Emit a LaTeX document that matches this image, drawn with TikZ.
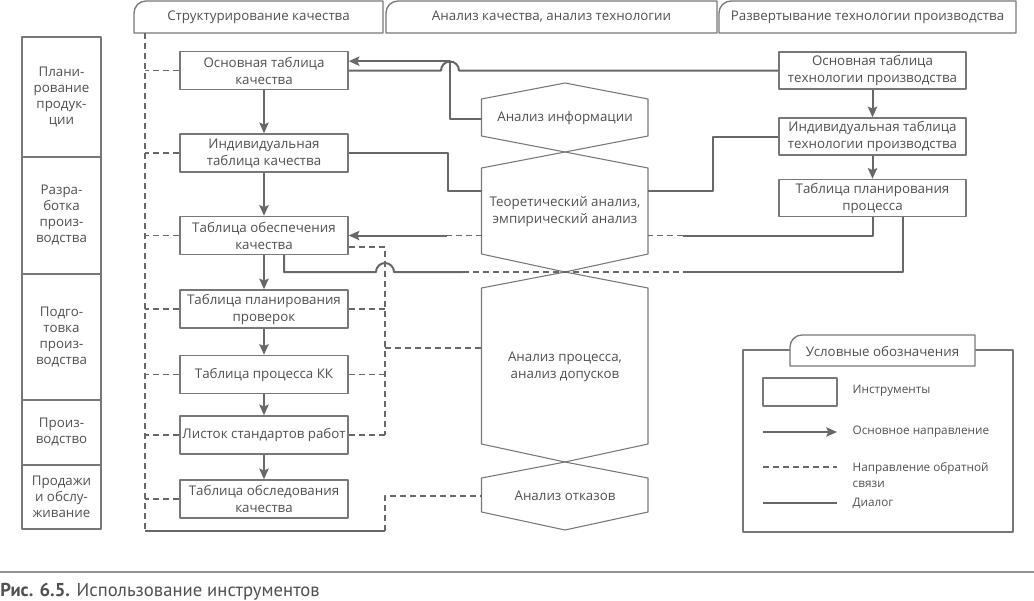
\documentclass[tikz,border=0pt]{standalone}
\usepackage{fontspec}
\setmainfont{Open Sans}
\newfontfamily\capfont{PT Sans}
\usetikzlibrary{arrows.meta}
\definecolor{linegray}{RGB}{104,104,104}
\definecolor{framegray}{RGB}{120,120,120}
\definecolor{textgray}{RGB}{80,80,80}
\begin{document}
\begin{tikzpicture}[x=0.75pt,y=-0.75pt,>={Stealth[length=8pt,width=7pt,inset=1.5pt]},line join=round,
	font=\fontsize{10}{12.75}\selectfont,text=textgray,
	tool/.style={draw=framegray,line width=1.1pt,fill=white,minimum width=126pt,minimum height=28.5pt,inner sep=0pt,align=center},
	tech/.style={tool,minimum width=140.25pt,minimum height=27.75pt},
	stage/.style={align=center,font=\fontsize{10}{11.8}\selectfont},
	frame/.style={draw=framegray,line width=1pt},
	hexa/.style={draw=framegray,line width=0.8pt},
	main/.style={->,draw=linegray,line width=1.5pt},
	dialog/.style={draw=linegray,line width=1.5pt},
	feedback/.style={draw=linegray,line width=1.4pt,dash pattern=on 4.5pt off 3pt},
	legtext/.style={anchor=west,align=left,font=\fontsize{8.8}{12}\selectfont}]
	\useasboundingbox (0,0) rectangle (1034,600);
	% column headers
	\draw[frame] (134,33) [rounded corners=9pt]--(134,1) [sharp corners]--(383,1)--(383,33)--cycle;
	\draw[frame] (386,33) [rounded corners=9pt]--(386,1) [sharp corners]--(717,1)--(717,33)--cycle;
	\draw[frame] (719,33) [rounded corners=9pt]--(719,1) [sharp corners]--(1016,1)--(1016,33)--cycle;
	\node (tabsq) at (258.5,17) {Структурирование качества};
	\node (taban) at (551.5,17) {Анализ качества, анализ технологии};
	\node (tabtd) at (867.5,17) {Развертывание технологии производства};
	% stages
	\draw[frame] (22,37) rectangle (101,529);
	\foreach \y in {157,274,400,465} \draw[frame] (22,\y)--(101,\y);
	\node[stage] (plan) at (61.5,97) {Плани-\\рование\\продук-\\ции};
	\node[stage] (razr) at (61.5,215) {Разра-\\ботка\\произ-\\водства};
	\node[stage] (podg) at (61.5,337) {Подго-\\товка\\произ-\\водства};
	\node[stage] (proiz) at (61.5,432) {Произ-\\водство};
	\node[stage] (prod) at (61.5,497) {Продажи\\и обслу-\\живание};
	% quality tables
	\node[tool] (oq) at (264,70.5) {Основная таблица\\качества};
	\node[tool] (iq) at (264,153) {Индивидуальная\\таблица качества};
	\node[tool] (sq) at (264,235.5) {Таблица обеспечения\\качества};
	\node[tool] (ip) at (264,309) {Таблица планирования\\проверок};
	\node[tool] (kk) at (264,374.5) {Таблица процесса КК};
	\node[tool] (ls) at (264,435) {Листок стандартов работ};
	\node[tool] (ok) at (264,499) {Таблица обследования\\качества};
	% technology tables
	\node[tech] (ot) at (872.5,70.5) {Основная таблица\\технологии производства};
	\node[tech] (it) at (872.5,136.5) {Индивидуальная таблица\\технологии производства};
	\node[tech] (pp) at (872.5,198) {Таблица планирования\\процесса};
	% analysis hexagons
	\draw[hexa] (565,83)--(648,99)--(648,136)--(565,152)--(481.5,136)--(481.5,99)--cycle;
	\draw[hexa] (565,152)--(648,168)--(648,254)--(565,272)--(481.5,254)--(481.5,168)--cycle;
	\draw[hexa] (565,272)--(648,288)--(648,444)--(565,462)--(481.5,444)--(481.5,288)--cycle;
	\draw[hexa] (565,462)--(648,478)--(648,512)--(565,530)--(481.5,512)--(481.5,478)--cycle;
	\node (h1) at (565,118) {Анализ информации};
	\node[align=center] (h2) at (565,212) {Теоретический анализ,\\эмпирический анализ};
	\node[align=center] (h3) at (565,367) {Анализ процесса,\\анализ допусков};
	\node (h4) at (565,496) {Анализ отказов};
	\coordinate (h1w) at (481.5,119);
	\coordinate (h2w) at (481.5,191);
	\coordinate (h2e) at (648,191);
	\coordinate (h2wa) at (481.5,235.5);
	\coordinate (h2ea) at (648,235.5);
	\coordinate (h3w) at (481.5,348);
	\coordinate (h4w) at (481.5,496);
	% main direction
	\draw[main] (oq)--(iq);
	\draw[main] (iq)--(sq);
	\draw[main] (sq)--(ip);
	\draw[main] (ip)--(kk);
	\draw[main] (kk)--(ls);
	\draw[main] (ls)--(ok);
	\draw[main] (ot)--(it);
	\draw[main] (it)--(pp);
	\draw[main] (h1w)--(450,119)|-([yshift=7pt]oq.east);
	% dialog
	\draw[dialog] (oq.east)--(441,70.5) arc[start angle=180,end angle=0,radius=6.75pt]--(ot.west);
	\draw[dialog] (iq.east)-|(448,191)--(h2w);
	\draw[dialog] (h2e)--(713,191)|-(it.west);
	\draw[dialog] (pp.south)|-(683,235.5);
	\draw[feedback] (683,235.5)--(h2ea);
	\draw[feedback] (h2wa)--(447,235.5);
	\draw[main] (447,235.5)--(sq.east);
	\draw[dialog] ([xshift=15pt]sq.south)|-(376,272) arc[start angle=180,end angle=0,radius=6.75pt]--(463,272);
	\draw[feedback] (463,272)--(683,272);
	\draw[dialog] (683,272)-|([xshift=22.9pt]pp.south);
	% feedback
	\draw[feedback] (145,33)--(145,531);
	\foreach \n in {oq,iq,sq,ip,kk,ls,ok} \draw[feedback] (\n.west)--(145,0|-\n.west);
	\draw[dialog] (145,531)--(385,531);
	\draw[feedback] (385,531)|-(h4w);
	\draw[feedback] ([yshift=-8.6pt]sq.east)-|(385,435);
	\foreach \n in {ip,kk,ls} \draw[feedback] (\n.east)--(385,0|-\n.east);
	\draw[feedback] (385,348)--(h3w);
	% legend
	\draw[frame] (743,350) rectangle (1013,532);
	\draw[frame,fill=white] (790,366) [rounded corners=9pt]--(790,335) [sharp corners]--(975,335)--(975,366)--cycle;
	\node (legtitle) at (882.5,351) {Условные обозначения};
	\node[draw=framegray,line width=1pt,minimum width=55.5pt,minimum height=21pt,inner sep=0pt] (lgtool) at (800,392) {};
	\node[legtext] (lgtooltxt) at (848,391) {Инструменты};
	\coordinate (lgm1) at (763,432); \coordinate (lgm2) at (837,432);
	\draw[main] (lgm1)--(lgm2);
	\node[legtext] (lgmaintxt) at (848,432) {Основное направление};
	\coordinate (lgf1) at (763,467); \coordinate (lgf2) at (837,467);
	\draw[feedback] (lgf1)--(lgf2);
	\node[legtext,anchor=north west] (lgfbtxt) at (848,458) {Направление обратной\\связи};
	\coordinate (lgd1) at (763,503); \coordinate (lgd2) at (837,503);
	\draw[dialog] (lgd1)--(lgd2);
	\node[legtext] (lgdltxt) at (848,503) {Диалог};
	% caption
	\draw[draw=framegray!80,line width=1.5pt] (0,572)--(1034,572);
	\node[anchor=west,inner sep=0pt,font=\capfont\fontsize{14}{16}\selectfont] (cap) at (0,592) {\textbf{Рис. 6.5.} Использование инструментов};
\end{tikzpicture}
\end{document}
